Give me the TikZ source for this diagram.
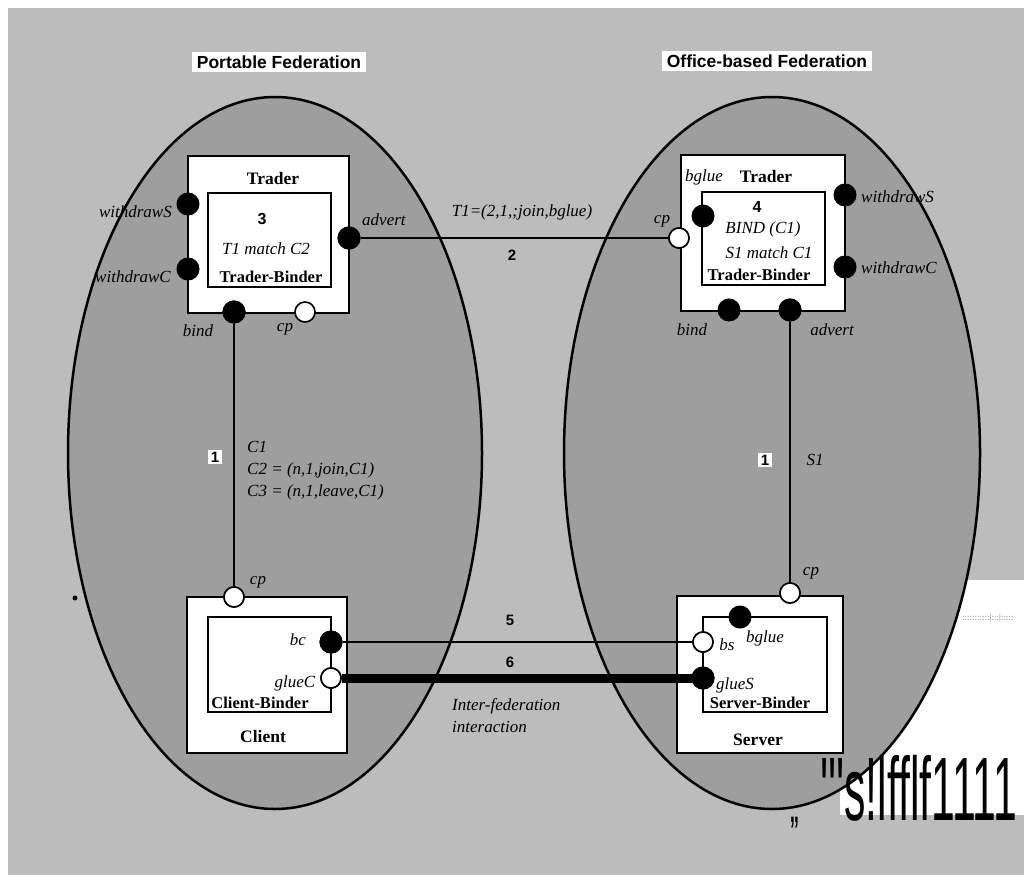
\documentclass[tikz,border=0pt]{standalone}
\usepackage{fontspec}
\setmainfont{Liberation Serif}
\newfontfamily\hfont{Liberation Sans}
\definecolor{bgout}{RGB}{188,188,188}
\definecolor{ellfill}{RGB}{158,158,158}
\definecolor{junkgray}{RGB}{120,120,120}
\tikzset{
  bdot/.style={circle, fill=black, draw=black, line width=1pt, minimum size=22pt, inner sep=0pt},
  wdot/.style={circle, fill=white, draw=black, line width=1.6pt, minimum size=20pt, inner sep=0pt},
  outerbox/.style={draw=black, fill=white, line width=2.8pt, inner sep=0pt},
  innerbox/.style={draw=black, fill=white, line width=2pt, inner sep=0pt},
  fed/.style={draw=black, line width=2.5pt, fill=ellfill},
  titlebox/.style={fill=white, font=\hfont\bfseries\fontsize{17.5}{17.5}\selectfont, inner xsep=5pt, inner ysep=4pt},
  lbl/.style={font=\itshape\fontsize{17}{17}\selectfont, inner sep=1pt},
  bname/.style={font=\bfseries\fontsize{17.5}{17.5}\selectfont, inner sep=0pt},
  bbind/.style={font=\bfseries\fontsize{16.5}{16.5}\selectfont, inner sep=0pt},
  num/.style={font=\hfont\bfseries\fontsize{15}{15}\selectfont, inner sep=1.5pt},
  numbox/.style={num, fill=white, inner xsep=3pt, inner ysep=2pt},
  conn/.style={draw=black, line width=2pt},
  thickconn/.style={draw=black, line width=9pt},
  junk/.style={font=\hfont\fontsize{90}{90}\selectfont, xscale=0.475, inner sep=0pt}
}
\begin{document}
\begin{tikzpicture}[x=1pt,y=-1pt]
\useasboundingbox (0,0) rectangle (1024,875);
\fill[white] (0,0) rectangle (1024,875);
\fill[bgout] (8,8) rectangle (1024,875);
\fill[white] (840,580) rectangle (1024,815);

% federations
\filldraw[fed] (275,453) ellipse [x radius=207, y radius=356];
\filldraw[fed] (772,453) ellipse [x radius=208, y radius=356];
\fill[black] (75,598) circle [radius=2.5];

% titles
\node[titlebox] (tPort) at (279,62) {Portable Federation};
\node[titlebox] (tOff) at (767,61) {Office-based Federation};

% ---- left trader
\node[outerbox, minimum width=161pt, minimum height=157pt] (ltO) at (268.5,234.5) {};
\node[innerbox, minimum width=123pt, minimum height=94pt] (ltI) at (269.5,240) {};
\node[bname] (ltName) at (273,179) {Trader};
\node[num, font=\hfont\bfseries\fontsize{16}{16}\selectfont] (lt3) at (262,219) {3};
\node[lbl] (ltMatch) at (266,249) {T1 match C2};
\node[bbind] (ltBind) at (271,277) {Trader-Binder};

% ---- right trader
\node[outerbox, minimum width=164pt, minimum height=156pt] (rtO) at (763,233) {};
\node[innerbox, minimum width=123pt, minimum height=93pt] (rtI) at (763.5,238.5) {};
\node[lbl] (rtBglueL) at (704,177) {bglue};
\node[bname] (rtName) at (766,177) {Trader};
\node[num, font=\hfont\bfseries\fontsize{16}{16}\selectfont] (rt4) at (757,207) {4};
\node[lbl] (rtBIND) at (763,229) {BIND (C1)};
\node[lbl] (rtMatch) at (769,253) {S1 match C1};
\node[bbind] (rtBind) at (759,275) {Trader-Binder};

% ---- client
\node[outerbox, minimum width=160pt, minimum height=156pt] (clO) at (267,675) {};
\node[innerbox, minimum width=123pt, minimum height=95pt] (clI) at (269.5,664.5) {};
\node[lbl] (clbcL) at (298,640) {bc};
\node[lbl] (clglueL) at (295,683) {glueC};
\node[bbind] (clBind) at (260,703) {Client-Binder};
\node[bname] (clName) at (263,737) {Client};

% ---- server
\node[outerbox, minimum width=166pt, minimum height=157pt] (svO) at (760,674.5) {};
\node[innerbox, minimum width=124pt, minimum height=95pt] (svI) at (765,664.5) {};
\node[lbl] (svbsL) at (727,645) {bs};
\node[lbl] (svbglueL) at (765,638) {bglue};
\node[lbl] (svglueL) at (735,685) {glueS};
\node[bbind] (svBind) at (760,703) {Server-Binder};
\node[bname] (svName) at (758,740) {Server};

% ---- dots
\node[bdot] (lWS) at (188,204) {};
\node[bdot] (lWC) at (188,269) {};
\node[bdot] (lAdv) at (349,238) {};
\node[bdot] (lBnd) at (234,312) {};
\node[wdot] (lCp) at (305,312) {};

\node[bdot] (rBglue) at (703,216) {};
\node[wdot] (rCp) at (679,238) {};
\node[bdot] (rWS) at (845,195) {};
\node[bdot] (rWC) at (845,267) {};
\node[bdot] (rBnd) at (729,310) {};
\node[bdot] (rAdv) at (790,310) {};

\node[wdot] (cCp) at (234,597) {};
\node[bdot] (cBc) at (331,642) {};
\node[wdot] (cGlue) at (331,678) {};

\node[wdot] (sCp) at (790,593) {};
\node[bdot] (sBglue) at (740,617) {};
\node[wdot] (sBs) at (703,642) {};
\node[bdot] (sGlue) at (703,678) {};

% ---- connectors
\draw[conn] (lAdv) -- (rCp);
\draw[conn] (lBnd) -- (cCp);
\draw[conn] (rAdv) -- (sCp);
\draw[conn] (cBc) -- (sBs);
\draw[thickconn] (cGlue) -- (sGlue);
% redraw dots on top of connectors
\node[bdot] at (lAdv) {};
\node[wdot] at (rCp) {};
\node[bdot] at (lBnd) {};
\node[wdot] at (cCp) {};
\node[bdot] at (rAdv) {};
\node[wdot] at (sCp) {};
\node[bdot] at (cBc) {};
\node[wdot] at (sBs) {};
\node[wdot] at (cGlue) {};
\node[bdot] at (sGlue) {};

% ---- port labels
\node[lbl, anchor=east] (lWSl) at (173,212) {withdrawS};
\node[lbl, anchor=east] (lWCl) at (172,277) {withdrawC};
\node[lbl, anchor=west] (lAdvl) at (361,220) {advert};
\node[lbl] (lBndl) at (198,331) {bind};
\node[lbl] (lCpl) at (285,329) {cp};

\node[lbl] (rCpl) at (662,221) {cp};
\node[lbl, anchor=west] (rWSl) at (860,197) {withdrawS};
\node[lbl, anchor=west] (rWCl) at (860,268) {withdrawC};
\node[lbl] (rBndl) at (692,330) {bind};
\node[lbl] (rAdvl) at (832,330) {advert};

\node[lbl] (cCpl) at (258,582) {cp};
\node[lbl] (sCpl) at (811,573) {cp};

% ---- connector labels
\node[lbl] (l2) at (522,212) {T1=(2,1,;join,bglue)};
\node[num] (n2) at (512,255) {2};
\node[numbox] (n1L) at (215,457) {1};
\node[lbl, anchor=west] (c1) at (246,447) {C1};
\node[lbl, anchor=west] (c2) at (246,470) {C2 = (n,1,join,C1)};
\node[lbl, anchor=west] (c3) at (246,492) {C3 = (n,1,leave,C1)};
\node[numbox] (n1R) at (765,460) {1};
\node[lbl] (s1) at (815,460) {S1};
\node[num] (n5) at (510,620) {5};
\node[num] (n6) at (510,662) {6};
\node[lbl, anchor=west] (inter1) at (451,706) {Inter-federation};
\node[lbl, anchor=west] (inter2) at (451,727) {interaction};

% ---- scan artefacts
\node[font=\fontsize{9}{9}\selectfont, text=junkgray, anchor=west, inner sep=0pt] (dotsline) at (962,618) {:::::::::::|:::|:::::};
\node[junk, anchor=base west] (junkA) at (820,820) {'''s!lfflf1111};
\node[junk, anchor=base west, font=\hfont\bfseries\fontsize{36}{36}\selectfont] (junkB) at (790,822) {,,};
\end{tikzpicture}
\end{document}
